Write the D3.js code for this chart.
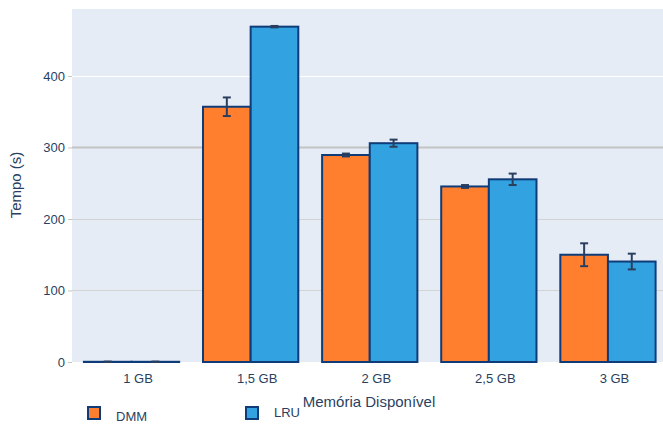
<!DOCTYPE html>
<html><head><meta charset="utf-8">
<script src="https://cdn.jsdelivr.net/npm/d3@7"></script>
<style>body{margin:0;background:#fff}svg{display:block;font-family:"Liberation Sans",Arial,sans-serif}</style>
</head><body><svg id="c" width="663" height="424"></svg>
<script>
const categories = ["1 GB","1,5 GB","2 GB","2,5 GB","3 GB"];
const seriesNames = ["DMM","LRU"];
const dmmValues = [0.3, 357, 289.5, 245.5, 150];
const dmmErrors = [0.3, 13, 2, 2, 16];
const lruValues = [0.3, 469, 306, 255.5, 140.5];
const lruErrors = [0.3, 1, 5, 8, 11];
const yTicks = [0,100,200,300,400];
const colors = ["#ff7f2f","#32a2e0"];

const svg = d3.select("#c");
const L=72, R=663, T=9, B=362;
const x = d3.scaleBand().domain(categories).range([72,667.5]).paddingInner(0.2).paddingOuter(0.1);
const xs = d3.scaleBand().domain(seriesNames).range([0,x.bandwidth()]);
const y = d3.scaleLinear().domain([0,493.7]).range([B,T]);
const textCol = "#2a3f5f";

svg.append("rect").attr("x",L).attr("y",T).attr("width",R-L).attr("height",B-T).attr("fill","#e5ecf6");

// grid
const gridStyle = {400:["#ffffff",1],300:["#c4c4c4",2],200:["#d3d3d3",1],100:["#d3d3d3",1]};
yTicks.filter(t=>t>0).forEach(t=>{
  svg.append("line").attr("x1",L).attr("x2",R).attr("y1",Math.round(y(t))+0.5).attr("y2",Math.round(y(t))+0.5)
    .attr("stroke",gridStyle[t][0]).attr("stroke-width",gridStyle[t][1]);
});

// y axis
const ya = svg.append("g").attr("transform",`translate(${L},0)`)
  .call(d3.axisLeft(y).tickValues(yTicks).tickSize(4).tickPadding(3));
ya.select(".domain").remove();
ya.selectAll(".tick line").attr("stroke","#c4c4c4");
ya.selectAll(".tick text").attr("fill",textCol).style("font-size","13px");

// x axis
const xa = svg.append("g").attr("transform",`translate(0,${B})`)
  .call(d3.axisBottom(x).tickSize(0).tickPadding(12));
xa.select(".domain").remove();
xa.selectAll(".tick text").attr("fill",textCol).style("font-size","13px").attr("dx",6.5);

// bars
const series = [
  {name:"DMM", values:dmmValues, errs:dmmErrors, color:colors[0]},
  {name:"LRU", values:lruValues, errs:lruErrors, color:colors[1]}
];
series.forEach(s=>{
  const g = svg.append("g");
  categories.forEach((c,i)=>{
    const x0 = x(c)+xs(s.name);
    g.append("rect").attr("x",x0).attr("y",y(s.values[i])).attr("width",xs.bandwidth())
      .attr("height",B-y(s.values[i])).attr("fill",s.color).attr("stroke","#0f3c78").attr("stroke-width",2);
  });
});
series.forEach(s=>{
  const g = svg.append("g").attr("stroke","#2a3f5f").attr("stroke-width",2);
  categories.forEach((c,i)=>{
    const cx = x(c)+xs(s.name)+xs.bandwidth()/2;
    const hi=y(s.values[i]+s.errs[i]), lo=y(s.values[i]-s.errs[i]);
    g.append("line").attr("x1",cx).attr("x2",cx).attr("y1",hi).attr("y2",lo);
    g.append("line").attr("x1",cx-4).attr("x2",cx+4).attr("y1",hi).attr("y2",hi);
    g.append("line").attr("x1",cx-4).attr("x2",cx+4).attr("y1",lo).attr("y2",lo);
  });
});

// titles
svg.append("text").attr("x",369).attr("y",406.5).attr("text-anchor","middle").attr("fill",textCol)
  .style("font-size","15px").text("Memória Disponível");
svg.append("text").attr("transform","translate(21,185) rotate(-90)").attr("text-anchor","middle").attr("fill",textCol)
  .style("font-size","15px").text("Tempo (s)");

// legend
const legend = [
  {name:"DMM", color:colors[0], sx:87, tx:116, ty:421},
  {name:"LRU", color:colors[1], sx:245, tx:274, ty:417}
];
legend.forEach(l=>{
  svg.append("rect").attr("x",l.sx+1).attr("y",407).attr("width",12).attr("height",12)
    .attr("fill",l.color).attr("stroke","#0f3c78").attr("stroke-width",2);
  svg.append("text").attr("x",l.tx).attr("y",l.ty).attr("fill",textCol).style("font-size","13px").text(l.name);
});
</script></body></html>
